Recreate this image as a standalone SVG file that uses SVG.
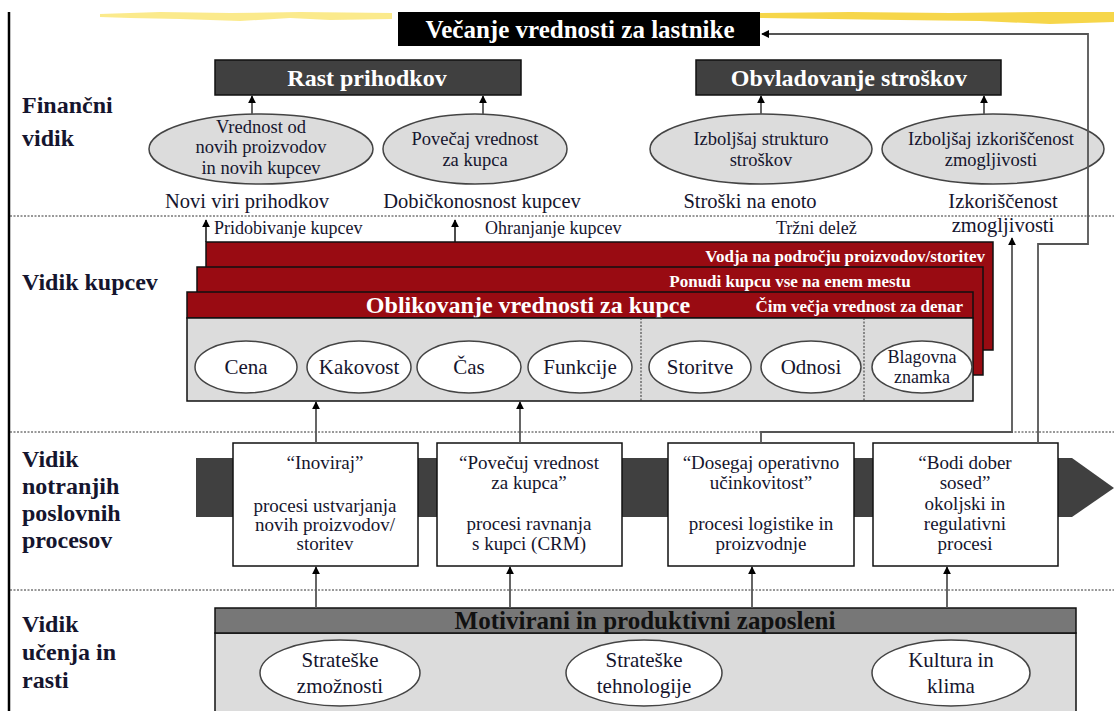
<svg xmlns="http://www.w3.org/2000/svg" width="1114" height="711" viewBox="0 0 1114 711">
<defs>
<marker id="ah" viewBox="0 0 10 10" refX="9" refY="5" markerWidth="8" markerHeight="8" markerUnits="userSpaceOnUse" orient="auto"><path d="M0,0 L10,5 L0,10 z" fill="#000"/></marker>
<style>
text{font-family:'Liberation Serif','DejaVu Serif',serif;fill:#15152e}
.hd{font-weight:bold;font-size:24px}
.wb{font-weight:bold;fill:#fff}
.el{fill:#dcdcdc;stroke:#444;stroke-width:1.5}
.ov{fill:#fff;stroke:#444;stroke-width:1.5}
.sm{font-size:18.5px}
.md{font-size:21px}
.lb{font-size:20.5px}
.tl{font-size:18px}
.pr{font-size:19px}
.red{fill:#990b12;stroke:#111;stroke-width:1.5}
.dot{stroke:#333;stroke-width:1;stroke-dasharray:2,1.5;fill:none}
.cn{stroke:#555;stroke-width:1.8;fill:none}
.box{fill:#fff;stroke:#111;stroke-width:1.5}
</style>
</defs>
<rect width="1114" height="711" fill="#fff"/>
<g id="decor">
<path d="M100,14 L160,12 L230,13 L300,12 L392,13 L392,19 L330,20 L290,18 L240,21 L180,19 L130,18 L100,17 z" fill="#f8dc40" opacity="0.6"/>
<path d="M760,13 L850,12 L950,13 L1040,12 L1114,12 L1114,22 L1050,24 L980,21 L900,20 L830,19 L760,18 z" fill="#f5cf2a" opacity="0.85"/>
<line x1="9" y1="12" x2="9" y2="711" stroke="#000" stroke-width="2.5"/>
<line class="dot" x1="10" y1="216" x2="1114" y2="216"/>
<line class="dot" x1="10" y1="432" x2="1114" y2="432"/>
<line class="dot" x1="10" y1="590" x2="1114" y2="590"/>
</g>
<g id="labels">
<text class="hd" x="22" y="113">Finančni</text>
<text class="hd" x="22" y="146">vidik</text>
<text class="hd" x="22" y="290">Vidik kupcev</text>
<text class="hd" x="22" y="467">Vidik</text>
<text class="hd" x="22" y="494">notranjih</text>
<text class="hd" x="22" y="521">poslovnih</text>
<text class="hd" x="22" y="548">procesov</text>
<text class="hd" x="22" y="632">Vidik</text>
<text class="hd" x="22" y="660">učenja in</text>
<text class="hd" x="22" y="688">rasti</text>
</g>
<g id="goal">
<rect x="398" y="12" width="362" height="34" fill="#000"/>
<text class="wb" x="580" y="38" text-anchor="middle" font-size="25">Večanje vrednosti za lastnike</text>
</g>
<g id="rast">
<rect x="215" y="60" width="306" height="35" fill="#404040" stroke="#111" stroke-width="1.5"/>
<text class="wb" x="367" y="86" text-anchor="middle" font-size="24">Rast prihodkov</text>
</g>
<g id="obvladovanje">
<rect x="696" y="60" width="305" height="35" fill="#404040" stroke="#111" stroke-width="1.5"/>
<text class="wb" x="849" y="86" text-anchor="middle" font-size="24">Obvladovanje stroškov</text>
</g>
<g id="fin1">
<ellipse class="el" cx="261" cy="149" rx="112" ry="35"/>
<text class="sm" x="261" y="133" text-anchor="middle">Vrednost od</text>
<text class="sm" x="261" y="153" text-anchor="middle">novih proizvodov</text>
<text class="sm" x="261" y="174" text-anchor="middle">in novih kupcev</text>
<text class="lb" x="247" y="208" text-anchor="middle">Novi viri prihodkov</text>
</g>
<g id="fin2">
<ellipse class="el" cx="475" cy="149" rx="92" ry="35"/>
<text class="sm" x="475" y="145" text-anchor="middle">Povečaj vrednost</text>
<text class="sm" x="475" y="166" text-anchor="middle">za kupca</text>
<text class="lb" x="482" y="208" text-anchor="middle">Dobičkonosnost kupcev</text>
</g>
<g id="fin3">
<ellipse class="el" cx="761" cy="149" rx="111" ry="35"/>
<text class="sm" x="761" y="145" text-anchor="middle">Izboljšaj strukturo</text>
<text class="sm" x="761" y="166" text-anchor="middle">stroškov</text>
<text class="lb" x="750" y="208" text-anchor="middle">Stroški na enoto</text>
</g>
<g id="fin4">
<ellipse class="el" cx="993" cy="149" rx="111" ry="35"/>
<text class="sm" x="991" y="145" text-anchor="middle">Izboljšaj izkoriščenost</text>
<text class="sm" x="991" y="166" text-anchor="middle">zmogljivosti</text>
<text class="lb" x="1003" y="208" text-anchor="middle">Izkoriščenost</text>
<text class="lb" x="1003" y="232" text-anchor="middle">zmogljivosti</text>
</g>
<g id="kupci">
<text class="tl" x="214" y="234">Pridobivanje kupcev</text>
<text class="tl" x="485" y="234">Ohranjanje kupcev</text>
<text class="tl" x="776" y="234">Tržni delež</text>
<rect class="red" x="206" y="242" width="787" height="108"/>
<text class="wb" x="985" y="262" text-anchor="end" font-size="17">Vodja na področju proizvodov/storitev</text>
<rect class="red" x="197" y="267" width="786" height="108"/>
<text class="wb" x="790" y="287" text-anchor="middle" font-size="17">Ponudi kupcu vse na enem mestu</text>
<rect class="red" x="187" y="292" width="786" height="26"/>
<text class="wb" x="528" y="313" text-anchor="middle" font-size="24">Oblikovanje vrednosti za kupce</text>
<text class="wb" x="963" y="312" text-anchor="end" font-size="17">Čim večja vrednost za denar</text>
<rect x="187" y="318" width="786" height="83" fill="#dcdcdc" stroke="#111" stroke-width="1.5"/>
<line class="dot" x1="641" y1="318" x2="641" y2="401"/>
<line class="dot" x1="864" y1="318" x2="864" y2="401"/>
</g>
<g id="cena"><ellipse class="ov" cx="246" cy="367" rx="51" ry="26"/><text class="md" x="246" y="374" text-anchor="middle">Cena</text></g>
<g id="kakovost"><ellipse class="ov" cx="359" cy="367" rx="52" ry="26"/><text class="md" x="359" y="374" text-anchor="middle">Kakovost</text></g>
<g id="cas"><ellipse class="ov" cx="469" cy="367" rx="52" ry="26"/><text class="md" x="469" y="374" text-anchor="middle">Čas</text></g>
<g id="funkcije"><ellipse class="ov" cx="580" cy="367" rx="52" ry="26"/><text class="md" x="580" y="374" text-anchor="middle">Funkcije</text></g>
<g id="storitve"><ellipse class="ov" cx="700" cy="367" rx="51" ry="26"/><text class="md" x="700" y="374" text-anchor="middle">Storitve</text></g>
<g id="odnosi"><ellipse class="ov" cx="811" cy="367" rx="50" ry="26"/><text class="md" x="811" y="374" text-anchor="middle">Odnosi</text></g>
<g id="blagovna"><ellipse class="ov" cx="922" cy="367" rx="50" ry="26"/><text x="922" y="363" text-anchor="middle" font-size="18">Blagovna</text><text x="922" y="383" text-anchor="middle" font-size="18">znamka</text></g>
<g id="band">
<polygon points="196,458 1072,458 1114,488 1072,517 196,517" fill="#404040"/>
</g>
<g id="p1">
<rect class="box" x="233" y="443" width="185" height="123"/>
<text class="pr" x="325" y="469" text-anchor="middle">“Inoviraj”</text>
<text class="pr" x="325" y="512" text-anchor="middle">procesi ustvarjanja</text>
<text class="pr" x="325" y="531" text-anchor="middle">novih proizvodov/</text>
<text class="pr" x="325" y="550" text-anchor="middle">storitev</text>
</g>
<g id="p2">
<rect class="box" x="437" y="443" width="185" height="123"/>
<text class="pr" x="529" y="469" text-anchor="middle">“Povečuj vrednost</text>
<text class="pr" x="529" y="489" text-anchor="middle">za kupca”</text>
<text class="pr" x="529" y="530" text-anchor="middle">procesi ravnanja</text>
<text class="pr" x="529" y="550" text-anchor="middle">s kupci (CRM)</text>
</g>
<g id="p3">
<rect class="box" x="668" y="443" width="186" height="123"/>
<text class="pr" x="761" y="469" text-anchor="middle">“Dosegaj operativno</text>
<text class="pr" x="761" y="489" text-anchor="middle">učinkovitost”</text>
<text class="pr" x="761" y="530" text-anchor="middle">procesi logistike in</text>
<text class="pr" x="761" y="550" text-anchor="middle">proizvodnje</text>
</g>
<g id="p4">
<rect class="box" x="873" y="443" width="185" height="123"/>
<text class="pr" x="965" y="469" text-anchor="middle">“Bodi dober</text>
<text class="pr" x="965" y="489" text-anchor="middle">sosed”</text>
<text class="pr" x="965" y="510" text-anchor="middle">okoljski in</text>
<text class="pr" x="965" y="530" text-anchor="middle">regulativni</text>
<text class="pr" x="965" y="550" text-anchor="middle">procesi</text>
</g>
<g id="ucenje">
<rect x="215" y="633" width="861" height="90" fill="#dcdcdc" stroke="#111" stroke-width="1.5"/>
<rect x="215" y="608" width="861" height="25" fill="#777" stroke="#111" stroke-width="1.5"/>
<text x="645" y="629" text-anchor="middle" font-weight="bold" font-size="25" style="fill:#111">Motivirani in produktivni zaposleni</text>
</g>
<g id="u1"><ellipse class="ov" cx="340" cy="673" rx="80" ry="33"/><text class="md" x="340" y="667" text-anchor="middle">Strateške</text><text class="md" x="340" y="693" text-anchor="middle">zmožnosti</text></g>
<g id="u2"><ellipse class="ov" cx="644" cy="673" rx="78" ry="33"/><text class="md" x="644" y="667" text-anchor="middle">Strateške</text><text class="md" x="644" y="693" text-anchor="middle">tehnologije</text></g>
<g id="u3"><ellipse class="ov" cx="951" cy="673" rx="79" ry="33"/><text class="md" x="951" y="667" text-anchor="middle">Kultura in</text><text class="md" x="951" y="693" text-anchor="middle">klima</text></g>
<g id="connectors">
<path class="cn" d="M252,114 V96" marker-end="url(#ah)"/>
<path class="cn" d="M483,114 V96" marker-end="url(#ah)"/>
<path class="cn" d="M761,114 V96" marker-end="url(#ah)"/>
<path class="cn" d="M984,114 V96" marker-end="url(#ah)"/>
<path class="cn" d="M1038,443 V244 H1088 V34 H762" marker-end="url(#ah)"/>
<path class="cn" d="M761,443 V432 H1012 V238" marker-end="url(#ah)"/>
<path d="M206,242 V220" stroke="#111" stroke-width="1.5" marker-end="url(#ah)"/>
<path d="M455,242 V220" stroke="#111" stroke-width="1.5" marker-end="url(#ah)"/>
<path class="cn" d="M316,443 V402" marker-end="url(#ah)"/>
<path class="cn" d="M520,443 V402" marker-end="url(#ah)"/>
<path class="cn" d="M316,608 V567" marker-end="url(#ah)"/>
<path class="cn" d="M510,608 V567" marker-end="url(#ah)"/>
<path class="cn" d="M752,608 V567" marker-end="url(#ah)"/>
<path class="cn" d="M947,608 V567" marker-end="url(#ah)"/>
</g>
</svg>
